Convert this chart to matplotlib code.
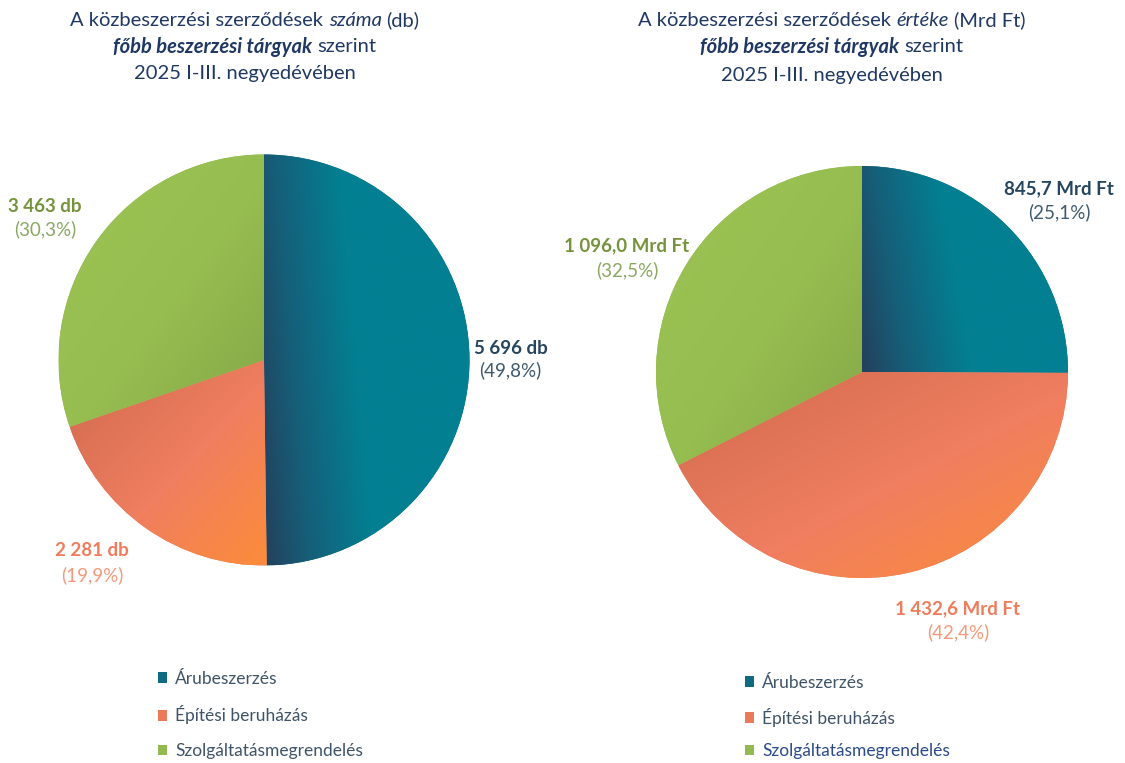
import numpy as np
import matplotlib
matplotlib.use('Agg')
from matplotlib import pyplot as plt
from matplotlib.colors import LinearSegmentedColormap

plt.rcParams['font.family'] = ['Lato', 'DejaVu Sans']

# Data
categories = ['Árubeszerzés', 'Építési beruházás', 'Szolgáltatásmegrendelés']
count_values = [5696, 2281, 3463]
count_labels = ['5 696 db', '2 281 db', '3 463 db']
count_pcts = ['(49,8%)', '(19,9%)', '(30,3%)']
value_values = [845.7, 1432.6, 1096.0]
value_labels = ['845,7 Mrd Ft', '1 432,6 Mrd Ft', '1 096,0 Mrd Ft']
value_pcts = ['(25,1%)', '(42,4%)', '(32,5%)']

TITLE_C = '#1f3864'
label_colors = ['#26465f', '#f07c5c', '#76933c']
pct_colors = ['#3d5a70', '#f49a7c', '#8aa862']
legend_face = ['#0f6b80', '#e97a5a', '#93ba50']

grad_maps = [
    LinearSegmentedColormap.from_list('blue', [(0, '#24405c'), (0.2, '#15607a'), (0.45, '#037f92'), (1, '#037f92')]),
    LinearSegmentedColormap.from_list('orange', [(0, '#cf6a4e'), (0.55, '#f07e60'), (1, '#fc8c3a')]),
    LinearSegmentedColormap.from_list('green', [(0, '#9cc454'), (0.55, '#96bd50'), (1, '#84a647')]),
]


def grad_t(kind, u, v):
    if kind == 0:
        return 0.85 * u + 0.15 * v
    return (u + (1 - v)) / 2


def fill_gradient(ax, wedges):
    n = 300
    u, v = np.meshgrid(np.linspace(0, 1, n), np.linspace(0, 1, n))
    for i, w in enumerate(wedges):
        bb = w.get_path().get_extents()
        img = grad_t(i, u, v)
        im = ax.imshow(img, cmap=grad_maps[i], vmin=0, vmax=1, origin='lower',
                       extent=(bb.x0, bb.x1, bb.y0, bb.y1), aspect='auto',
                       interpolation='bilinear', zorder=2)
        im.set_clip_path(w)
    ax.set_xlim(-1, 1)
    ax.set_ylim(-1, 1)


def rich_line(fig, xc, y, runs, size, color):
    """Draw one centered line made of differently styled runs (pixel coords)."""
    r = fig.canvas.get_renderer()
    W, H = fig.bbox.width, fig.bbox.height
    probe1 = fig.text(0, 0, 'x x', fontsize=size)
    probe2 = fig.text(0, 0, 'xx', fontsize=size)
    gap = probe1.get_window_extent(r).width - probe2.get_window_extent(r).width
    probe1.remove()
    probe2.remove()
    texts = []
    for s, weight, style in runs:
        t = fig.text(0, 1 - y / H, s, fontsize=size, color=color, weight=weight,
                     style=style, va='center', ha='left')
        texts.append(t)
    widths = [t.get_window_extent(r).width for t in texts]
    total = sum(widths) + gap * (len(texts) - 1)
    x = xc - total / 2
    for t, wd in zip(texts, widths):
        t.set_x(x / W)
        x += wd + gap


def draw_pie(fig, cx, cy, R, values, labels, pcts, label_pos, legend_xy,
             legend_colors, spacing):
    W, H = fig.bbox.width, fig.bbox.height
    ax = fig.add_axes([(cx - R) / W, (H - cy - R) / H, 2 * R / W, 2 * R / H])
    wedges, _ = ax.pie(values, startangle=90, counterclock=False, radius=1,
                       colors=legend_face, wedgeprops=dict(linewidth=0))
    fill_gradient(ax, wedges)
    ax.axis('off')
    for i, (dx, dy1, dy2) in enumerate(label_pos):
        ax.text(dx, dy1, labels[i], ha='center', va='center', fontsize=13.5,
                weight='bold', color=label_colors[i], clip_on=False)
        ax.text(dx, dy2, pcts[i], ha='center', va='center', fontsize=13.5,
                color=pct_colors[i], clip_on=False)
    lx, ly = legend_xy
    leg = fig.legend(wedges, categories, loc='upper left',
                     bbox_to_anchor=(lx / W, 1 - ly / H), frameon=False,
                     fontsize=12.5, handlelength=0.55, handleheight=0.55,
                     handletextpad=0.45, labelspacing=spacing, borderpad=0)
    for txt, c in zip(leg.get_texts(), legend_colors):
        txt.set_color(c)
    return ax


fig = plt.figure(figsize=(11.25, 7.63), dpi=100)
fig.canvas.draw()

# Left: count of contracts
rich_line(fig, 245, 20, [('A közbeszerzési szerződések', 'normal', 'normal'),
                         ('száma', 'normal', 'italic'), ('(db)', 'normal', 'normal')], 14.5, TITLE_C)
rich_line(fig, 245, 47, [('főbb beszerzési tárgyak', 'bold', 'italic'),
                         ('szerint', 'normal', 'normal')], 14.5, TITLE_C)
rich_line(fig, 245, 74, [('2025 I-III. negyedévében', 'normal', 'normal')], 14.5, TITLE_C)

draw_pie(fig, 264, 360, 205.5, count_values, count_labels, count_pcts,
         [(1.20, 0.058, -0.049), (-0.837, -0.929, -1.046), (-1.066, 0.745, 0.637)],
         (149, 662), ['#3f5468', '#3f5468', '#3f5468'], 1.08)

# Right: value of contracts
rich_line(fig, 832, 20, [('A közbeszerzési szerződések', 'normal', 'normal'),
                         ('értéke', 'normal', 'italic'), ('(Mrd Ft)', 'normal', 'normal')], 14.5, TITLE_C)
rich_line(fig, 832, 47, [('főbb beszerzési tárgyak', 'bold', 'italic'),
                         ('szerint', 'normal', 'normal')], 14.5, TITLE_C)
rich_line(fig, 832, 76, [('2025 I-III. negyedévében', 'normal', 'normal')], 14.5, TITLE_C)

draw_pie(fig, 862, 372, 206, value_values, value_labels, value_pcts,
         [(0.956, 0.888, 0.777), (0.466, -1.150, -1.262), (-1.141, 0.612, 0.495)],
         (736, 666), ['#3f5468', '#3f5468', '#2b4a8a'], 0.97)

fig.savefig('out.png', dpi=100)
